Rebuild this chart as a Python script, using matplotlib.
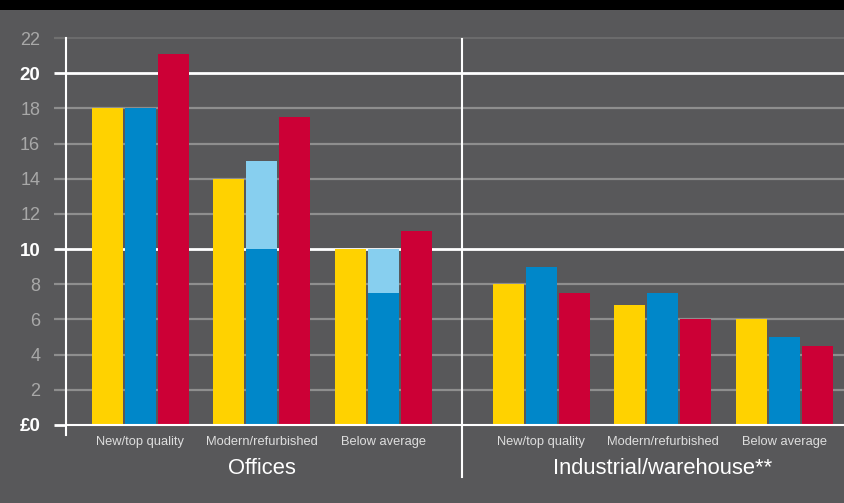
import matplotlib
matplotlib.use("Agg")
import matplotlib.pyplot as plt
from matplotlib.patches import Rectangle
import matplotlib.transforms as mtransforms

plt.rcParams['font.family'] = ['Liberation Sans', 'DejaVu Sans']

# ---- data ----
sections = ["Offices", "Industrial/warehouse**"]
categories = ["New/top quality", "Modern/refurbished", "Below average",
              "New/top quality", "Modern/refurbished", "Below average"]
yellow_vals = [18, 14, 10, 8, 6.8, 6]
blue_vals = [18, 10, 7.5, 9, 7.5, 5]
lightblue_vals = [18, 15, 10, 9, 7.5, 5]   # top of light-blue (upper) portion
red_vals = [21.1, 17.5, 11, 7.5, 6, 4.5]
yticks = [0, 2, 4, 6, 8, 10, 12, 14, 16, 18, 20, 22]
ytick_labels = ["£0", "2", "4", "6", "8", "10", "12", "14", "16", "18", "20", "22"]
bold_ticks = [0, 10, 20]

# ---- style ----
BG = "#58585a"
YEL = "#ffd200"
BLU = "#0087c9"
LBLU = "#87cfef"
RED = "#cc0036"
GRID = "#8e8e8e"

W, H = 844, 503
fig = plt.figure(figsize=(W / 100, H / 100), dpi=100, facecolor=BG)
ax = fig.add_axes([66 / W, (H - 435) / H, (W - 66) / W, 397.0 / H])
ax.set_facecolor(BG)

positions = [0, 1, 2, 3.3, 4.3, 5.3]
bw = 0.256
off = 0.272

for i, x in enumerate(positions):
    ax.bar(x - off, yellow_vals[i], width=bw, color=YEL, zorder=3, linewidth=0)
    ax.bar(x, lightblue_vals[i], width=bw, color=LBLU, zorder=3, linewidth=0)
    ax.bar(x, blue_vals[i], width=bw, color=BLU, zorder=3, linewidth=0)
    ax.bar(x + off, red_vals[i], width=bw, color=RED, zorder=3, linewidth=0)

ax.set_xlim(-0.61, 5.79)
ax.set_ylim(-0.57, 21.95)

# gridlines
for t in yticks:
    if t in (10, 20):
        ax.axhline(t, color="white", lw=2.0, zorder=2)
    elif t == 0:
        ax.axhline(t, color="white", lw=1.5, zorder=4)
    elif t == 22:
        ax.axhline(t, color="#707070", lw=1.2, zorder=2, clip_on=False)
    else:
        ax.axhline(t, color=GRID, lw=1.6, zorder=2)

for s in ["top", "right", "bottom"]:
    ax.spines[s].set_visible(False)
ax.spines["left"].set_color("white")
ax.spines["left"].set_linewidth(1.5)

ax.set_yticks(yticks)
ax.set_yticklabels(ytick_labels)
ax.tick_params(axis="y", direction="out", length=8.6, width=1.6, pad=10,
               color=GRID)
for tick, t, lab in zip(ax.yaxis.get_major_ticks(), yticks, ax.get_yticklabels()):
    if t in bold_ticks:
        tick.tick1line.set_markeredgecolor("white")
        tick.tick1line.set_markeredgewidth(2.0)
        lab.set_color("white")
        lab.set_fontweight("bold")
        lab.set_fontsize(13.5)
    else:
        tick.tick1line.set_markeredgecolor(GRID if t != 22 else "#707070")
        lab.set_color("#a8a8a8")
        lab.set_fontsize(13)

ax.set_xticks([])

# category labels
trans = mtransforms.blended_transform_factory(ax.transData, fig.transFigure)
for x, c in zip(positions, categories):
    ax.text(x, 1 - 442 / H, c, transform=trans, ha="center", va="center",
            color="#dedede", fontsize=9.3)

# section labels
sec_x = [sum(positions[0:3]) / 3, sum(positions[3:6]) / 3]
for x, s in zip(sec_x, sections):
    ax.text(x, 1 - 469 / H, s, transform=trans, ha="center", va="center",
            color="white", fontsize=15.8)

# section divider
div_x = (positions[2] + positions[3]) / 2
ax.plot([div_x, div_x], [1 - 39 / H, 1 - 477 / H], transform=trans,
        color="white", lw=1.5, clip_on=False, zorder=5)

# black top band
fig.patches.append(Rectangle((0, 1 - 10 / H), 1, 10 / H, transform=fig.transFigure,
                             facecolor="black", edgecolor="none", zorder=10))

fig.savefig("out.png", dpi=100, facecolor=BG)
